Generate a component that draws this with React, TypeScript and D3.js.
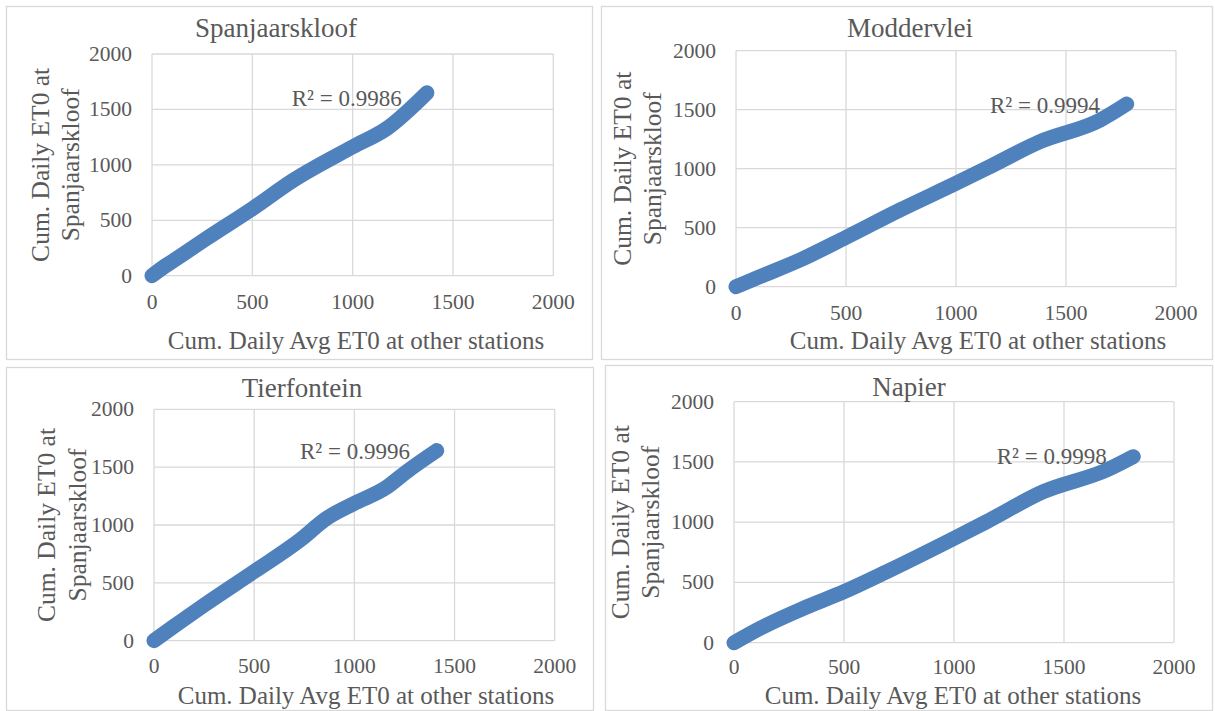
import * as d3 from "d3";
import * as React from "react";

const W = 1215;
const H = 711;

// station names (chart titles) and trendline R² labels
const stations = ["Spanjaarskloof", "Moddervlei", "Tierfontein", "Napier"];
const r2Labels = ["R² = 0.9986", "R² = 0.9994", "R² = 0.9996", "R² = 0.9998"];
const axisTicks = [0, 500, 1000, 1500, 2000];
const xTitle = "Cum. Daily Avg ET0 at other stations";
const yTitleLines = ["Cum. Daily ET0 at", "Spanjaarskloof"];

// cumulative ET0: [avg at other stations, at Spanjaarskloof]
const spanjaarskloofPts = [
  [0, 0], [40, 55], [106, 135], [273, 337], [502, 607], [705, 862],
  [1001, 1163], [1170, 1328], [1370, 1650],
];
const moddervleiPts = [
  [0, 0], [109, 85], [291, 226], [500, 418], [745, 650], [1000, 876],
  [1139, 1003], [1382, 1229], [1655, 1412], [1776, 1548],
];
const tierfonteinPts = [
  [0, 0], [97, 121], [263, 323], [499, 597], [729, 870], [862, 1058],
  [1000, 1187], [1161, 1326], [1261, 1461], [1411, 1643],
];
const napierPts = [
  [0, 0], [118, 119], [315, 285], [500, 423], [694, 589], [1000, 866],
  [1148, 1004], [1406, 1253], [1694, 1433], [1815, 1544],
];
const series = [spanjaarskloofPts, moddervleiPts, tierfonteinPts, napierPts];

// panel layout (pixel positions)
const layout = [
  { box: [6, 6, 592, 359], plot: [152, 54, 553.3, 275.7], title: [276, 28], xt: [356, 340], yt: [40, 70], tickY: 302, r2: [291.7, 98] },
  { box: [601, 6, 1212, 359], plot: [736, 50.7, 1176, 286.7], title: [910, 28], xt: [978, 340], yt: [622, 652], tickY: 313, r2: [990, 105] },
  { box: [6, 367, 593, 710], plot: [154, 409.3, 554.7, 640.7], title: [302, 388], xt: [366, 695], yt: [46, 77], tickY: 666, r2: [300, 451.7] },
  { box: [605, 365, 1212, 710], plot: [734, 401.7, 1174, 642.7], title: [909, 387], xt: [953, 695], yt: [620, 650], tickY: 667, r2: [996.7, 456.7] },
];

const font = "'Liberation Serif', 'Times New Roman', serif";
const textColor = "#595959";
const gridColor = "#d9d9d9";
const lineColor = "#4f81bd";

function Panel({ i }: { i: number }) {
  const L = layout[i];
  const [pl, pt, pr, pb] = L.plot;
  const x = d3.scaleLinear().domain([0, 2000]).range([pl, pr]);
  const y = d3.scaleLinear().domain([0, 2000]).range([pb, pt]);
  const line = d3
    .line<number[]>()
    .x((d) => x(d[0]))
    .y((d) => y(d[1]))
    .curve(d3.curveMonotoneX);
  const cy = (pt + pb) / 2;

  return (
    <g>
      <rect
        x={L.box[0] + 0.5}
        y={L.box[1] + 0.5}
        width={L.box[2] - L.box[0]}
        height={L.box[3] - L.box[1]}
        fill="#fff"
        stroke={gridColor}
        strokeWidth={1.3}
      />
      {axisTicks.map((t) => (
        <line key={"gx" + t} x1={x(t)} x2={x(t)} y1={pt} y2={pb} stroke={gridColor} strokeWidth={1.3} />
      ))}
      {axisTicks.map((t) => (
        <line key={"gy" + t} x1={pl} x2={pr} y1={y(t)} y2={y(t)} stroke={gridColor} strokeWidth={1.3} />
      ))}
      {axisTicks.map((t) => (
        <text key={"ty" + t} x={pl - 20} y={y(t)} textAnchor="end" dominantBaseline="central"
          fontFamily={font} fontSize={21.5} fill={textColor}>{t}</text>
      ))}
      {axisTicks.map((t) => (
        <text key={"tx" + t} x={x(t)} y={L.tickY} textAnchor="middle" dominantBaseline="central"
          fontFamily={font} fontSize={21.5} fill={textColor}>{t}</text>
      ))}
      <text x={L.title[0]} y={L.title[1]} textAnchor="middle" dominantBaseline="central"
        fontFamily={font} fontSize={27} fill={textColor}>{stations[i]}</text>
      <text x={L.xt[0]} y={L.xt[1]} textAnchor="middle" dominantBaseline="central"
        fontFamily={font} fontSize={25} fill={textColor}>{xTitle}</text>
      {yTitleLines.map((s, k) => (
        <text key={s} transform={`translate(${L.yt[k]},${cy}) rotate(-90)`} textAnchor="middle"
          dominantBaseline="central" fontFamily={font} fontSize={25.5} fill={textColor}>{s}</text>
      ))}
      <text x={L.r2[0]} y={L.r2[1]} dominantBaseline="central" fontFamily={font} fontSize={23}
        fill={textColor}>{r2Labels[i]}</text>
      <path d={line(series[i] as number[][]) || ""} fill="none" stroke={lineColor} strokeWidth={15}
        strokeLinecap="round" strokeLinejoin="round" />
    </g>
  );
}

export default function App() {
  return (
    <svg width={W} height={H} style={{ position: "absolute", left: 0, top: 0, background: "#fff" }}>
      <rect width={W} height={H} fill="#fff" />
      {stations.map((s, i) => (
        <Panel key={s} i={i} />
      ))}
    </svg>
  );
}
